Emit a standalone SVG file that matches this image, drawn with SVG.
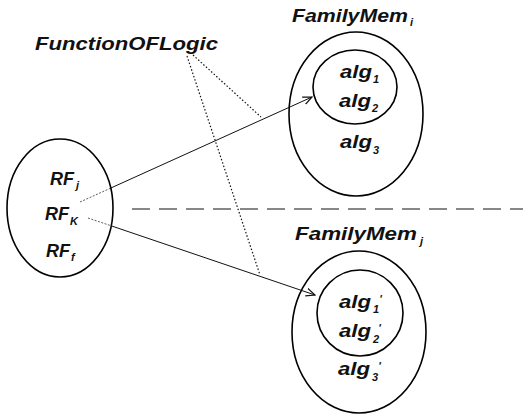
<svg xmlns="http://www.w3.org/2000/svg" width="523" height="417" viewBox="0 0 523 417">
  <style>
    .shape { fill: none; stroke: #000; stroke-width: 1.6; }
    .lbl { font-family: "Liberation Sans", "DejaVu Sans", sans-serif; font-weight: bold; font-style: italic; font-size: 18px; fill: #111; }
    .sub { font-family: "Liberation Sans", "DejaVu Sans", sans-serif; font-weight: bold; font-style: italic; font-size: 11px; fill: #111; }
    .conn { fill: none; stroke: #111; stroke-width: 1; }
    .dot { fill: none; stroke: #111; stroke-width: 1.2; stroke-dasharray: 1.5 2; }
    .fine { fill: none; stroke: #333; stroke-width: 0.8; stroke-dasharray: 2 1.5; }
  </style>
  <defs>
    <marker id="open" viewBox="0 0 10 10" refX="9" refY="5" markerWidth="10" markerHeight="10" markerUnits="userSpaceOnUse" orient="auto">
      <path d="M0,1 L9,5 L0,9" fill="none" stroke="#111" stroke-width="1.2"/>
    </marker>
  </defs>

  <rect width="523" height="417" fill="#fff"/>

  <!-- label with pointers -->
  <g id="function-of-logic">
    <text class="lbl" x="35" y="50" textLength="183" lengthAdjust="spacingAndGlyphs">FunctionOFLogic</text>
  </g>

  <!-- left set of RF elements -->
  <g id="rf-set">
    <ellipse class="shape" cx="60" cy="208" rx="53" ry="69"/>
    <text class="lbl" x="50" y="185" textLength="24" lengthAdjust="spacingAndGlyphs">RF</text>
    <text class="sub" x="76" y="189">j</text>
    <text class="lbl" x="45" y="220" textLength="24" lengthAdjust="spacingAndGlyphs">RF</text>
    <text class="sub" x="70" y="225">K</text>
    <text class="lbl" x="46" y="257" textLength="24" lengthAdjust="spacingAndGlyphs">RF</text>
    <text class="sub" x="71" y="261">f</text>
  </g>

  <!-- upper family -->
  <g id="family-mem-i">
    <text class="lbl" x="292" y="22" textLength="116" lengthAdjust="spacingAndGlyphs">FamilyMem</text>
    <text class="sub" x="410" y="26">i</text>
    <ellipse class="shape" cx="356" cy="114" rx="67" ry="82"/>
    <ellipse class="shape" cx="355" cy="87" rx="42" ry="37"/>
    <text class="lbl" x="340" y="78" textLength="32" lengthAdjust="spacingAndGlyphs">alg</text>
    <text class="sub" x="373" y="83">1</text>
    <text class="lbl" x="339" y="107" textLength="32" lengthAdjust="spacingAndGlyphs">alg</text>
    <text class="sub" x="372" y="112">2</text>
    <text class="lbl" x="340" y="148" textLength="32" lengthAdjust="spacingAndGlyphs">alg</text>
    <text class="sub" x="373" y="154">3</text>
  </g>

  <!-- lower family: primed algorithms, prime raised after the index -->
  <g id="family-mem-j">
    <text class="lbl" x="295" y="240" textLength="122" lengthAdjust="spacingAndGlyphs">FamilyMem</text>
    <text class="sub" x="420" y="245">j</text>
    <ellipse class="shape" cx="359" cy="332" rx="67" ry="81"/>
    <ellipse class="shape" cx="360" cy="313" rx="43" ry="43"/>
    <text class="lbl" x="339" y="308" textLength="32" lengthAdjust="spacingAndGlyphs">alg</text>
    <text class="sub" x="373" y="313">1<tspan dx="0" dy="-10">'</tspan></text>
    <text class="lbl" x="339" y="337" textLength="32" lengthAdjust="spacingAndGlyphs">alg</text>
    <text class="sub" x="373" y="343">2<tspan dx="-1" dy="-11">'</tspan></text>
    <text class="lbl" x="338" y="375" textLength="32" lengthAdjust="spacingAndGlyphs">alg</text>
    <text class="sub" x="372" y="381">3<tspan dx="0" dy="-11">'</tspan></text>
  </g>

  <!-- connectors -->
  <g id="connectors">
    <line class="fine" x1="80" y1="202" x2="110" y2="188.4"/>
    <line class="conn" x1="110" y1="188.4" x2="312" y2="97" marker-end="url(#open)"/>
    <line class="fine" x1="88" y1="218" x2="112" y2="226.1"/>
    <line class="conn" x1="112" y1="226.1" x2="315" y2="295" marker-end="url(#open)"/>
    <line class="dot" x1="193" y1="55" x2="261" y2="117"/>
    <line class="dot" x1="187" y1="56" x2="260" y2="275"/>
    <line class="conn" x1="132" y1="209" x2="523" y2="209" stroke-width="1.8" stroke-dasharray="18 9"/>
  </g>
</svg>
